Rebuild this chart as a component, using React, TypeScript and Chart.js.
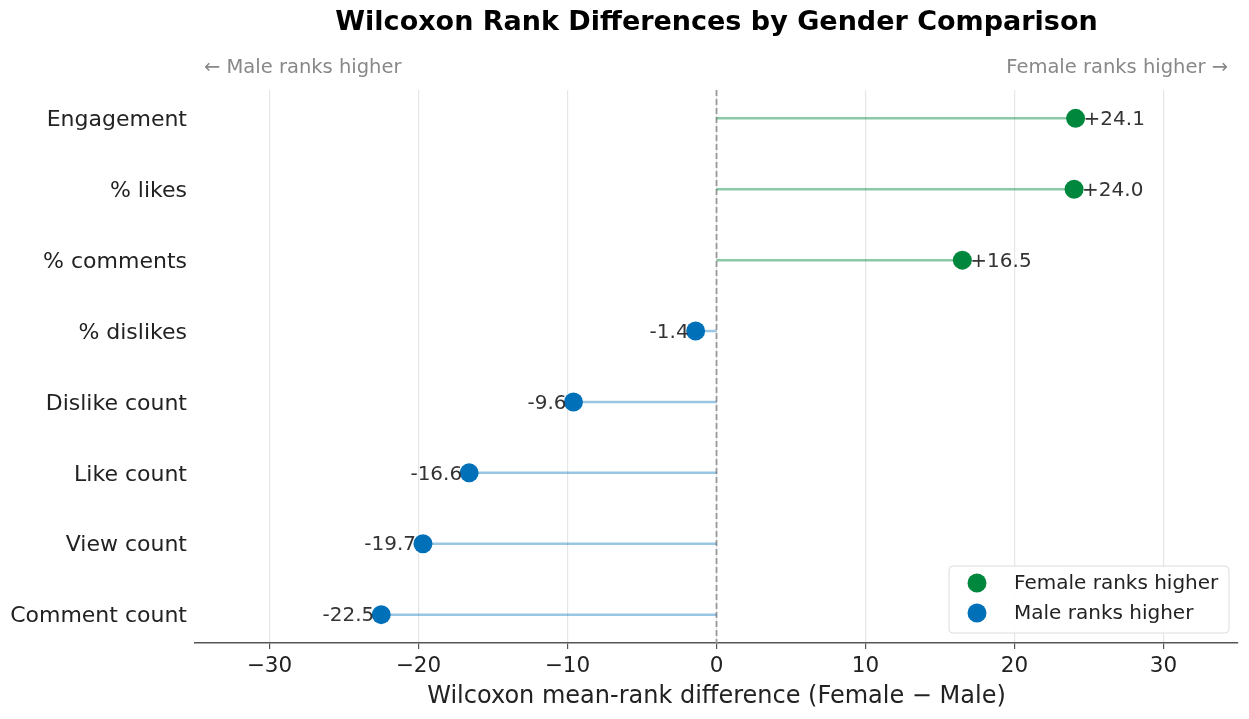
import React, { useEffect, useRef } from "react";
import { Chart, registerables } from "chart.js";
Chart.register(...registerables);

const categories = [
  "Engagement",
  "% likes",
  "% comments",
  "% dislikes",
  "Dislike count",
  "Like count",
  "View count",
  "Comment count",
];
const differences = [24.1, 24.0, 16.5, -1.4, -9.6, -16.6, -19.7, -22.5];
const xTickValues = [-30, -20, -10, 0, 10, 20, 30];
const seriesNames = ["Female ranks higher", "Male ranks higher"];
const titleText = "Wilcoxon Rank Differences by Gender Comparison";
const xTitleText = "Wilcoxon mean-rank difference (Female \u2212 Male)";
const leftNote = "\u2190 Male ranks higher";
const rightNote = "Female ranks higher \u2192";

const FONT = "'DejaVu Sans', Verdana, sans-serif";
const GREEN = "#00873E";
const BLUE = "#0071B9";
const GREEN_STEM = "rgba(0,135,62,0.45)";
const BLUE_STEM = "rgba(0,113,185,0.40)";

const fmt = (v: number) => (v > 0 ? "+" + v.toFixed(1) : v.toFixed(1));

export default function App() {
  const ref = useRef<HTMLCanvasElement | null>(null);

  useEffect(() => {
    if (!ref.current) return;

    const stemSets = differences.map((v, i) => ({
      type: "scatter" as const,
      label: "stem" + i,
      data: [
        { x: 0, y: i },
        { x: v, y: i },
      ],
      showLine: true,
      borderColor: v >= 0 ? GREEN_STEM : BLUE_STEM,
      borderWidth: 2.5,
      pointRadius: 0,
      pointHoverRadius: 0,
      order: 2,
    }));

    const femalePts = differences
      .map((v, i) => ({ x: v, y: i }))
      .filter((p) => p.x > 0);
    const malePts = differences
      .map((v, i) => ({ x: v, y: i }))
      .filter((p) => p.x <= 0);

    const pointSets = [
      {
        type: "scatter" as const,
        label: seriesNames[0],
        data: femalePts,
        backgroundColor: GREEN,
        borderColor: GREEN,
        borderWidth: 0,
        pointRadius: 9.5,
        pointHoverRadius: 9.5,
        order: 1,
      },
      {
        type: "scatter" as const,
        label: seriesNames[1],
        data: malePts,
        backgroundColor: BLUE,
        borderColor: BLUE,
        borderWidth: 0,
        pointRadius: 9.5,
        pointHoverRadius: 9.5,
        order: 1,
      },
    ];

    const overlay = {
      id: "overlay",
      beforeDatasetsDraw(chart: any) {
        const { ctx, chartArea, scales } = chart;
        const x0 = scales.x.getPixelForValue(0);
        ctx.save();
        ctx.strokeStyle = "#9a9a9a";
        ctx.lineWidth = 1.8;
        ctx.setLineDash([6, 3]);
        ctx.beginPath();
        ctx.moveTo(x0, chartArea.top);
        ctx.lineTo(x0, chartArea.bottom);
        ctx.stroke();
        ctx.restore();
      },
      afterDatasetsDraw(chart: any) {
        const { ctx, chartArea } = chart;
        const n = chart.data.datasets.length;
        ctx.save();
        // value labels
        ctx.font = `20px ${FONT}`;
        ctx.fillStyle = "#333333";
        ctx.textBaseline = "middle";
        for (let d = n - 2; d < n; d++) {
          const meta = chart.getDatasetMeta(d);
          const ds = chart.data.datasets[d];
          meta.data.forEach((el: any, j: number) => {
            const v = ds.data[j].x;
            if (v > 0) {
              ctx.textAlign = "left";
              ctx.fillText(fmt(v), el.x + 8, el.y + 1.5);
            } else {
              ctx.textAlign = "right";
              ctx.fillText(fmt(v), el.x - 7, el.y + 1.5);
            }
          });
        }
        // title
        const cx = (chartArea.left + chartArea.right) / 2;
        ctx.fillStyle = "#000000";
        ctx.textAlign = "center";
        ctx.font = `bold 27px ${FONT}`;
        ctx.fillText(titleText, cx, 23);
        // notes
        ctx.font = `19.5px ${FONT}`;
        ctx.fillStyle = "#888888";
        ctx.textAlign = "left";
        ctx.fillText(leftNote, chartArea.left + 9, 68);
        ctx.textAlign = "right";
        ctx.fillText(rightNote, chartArea.right - 10, 68);
        // x title
        ctx.font = `24px ${FONT}`;
        ctx.fillStyle = "#222222";
        ctx.textAlign = "center";
        ctx.fillText(xTitleText, cx, 697);
        // legend
        const bx = 949, by = 566, bw = 280, bh = 67;
        ctx.beginPath();
        (ctx as any).roundRect(bx, by, bw, bh, 4);
        ctx.fillStyle = "rgba(255,255,255,0.85)";
        ctx.fill();
        ctx.strokeStyle = "#dddddd";
        ctx.lineWidth = 1;
        ctx.stroke();
        const items = [
          { name: seriesNames[0], color: GREEN, y: 583 },
          { name: seriesNames[1], color: BLUE, y: 613 },
        ];
        ctx.font = `20px ${FONT}`;
        ctx.textAlign = "left";
        items.forEach((it) => {
          ctx.beginPath();
          ctx.arc(977, it.y, 9.5, 0, Math.PI * 2);
          ctx.fillStyle = it.color;
          ctx.fill();
          ctx.fillStyle = "#222222";
          ctx.fillText(it.name, 1014, it.y + 1);
        });
        ctx.restore();
      },
    };

    const chart = new Chart(ref.current, {
      type: "scatter",
      data: { datasets: [...stemSets, ...pointSets] as any },
      options: {
        animation: false,
        responsive: true,
        maintainAspectRatio: false,
        layout: { padding: { left: 0, right: 11, top: 90, bottom: 0 } },
        plugins: {
          legend: { display: false },
          title: { display: false },
          tooltip: { enabled: false },
        },
        scales: {
          x: {
            type: "linear",
            min: -35,
            max: 35,
            afterBuildTicks: (scale: any) => {
              scale.ticks = xTickValues.map((v) => ({ value: v }));
            },
            afterFit: (scale: any) => {
              scale.height = 76;
            },
            grid: {
              color: "#e6e6e6",
              lineWidth: 1.2,
              tickColor: "#555555",
              tickLength: 6,
              drawTicks: true,
            },
            border: { display: true, color: "#555555", width: 1.6 },
            ticks: {
              padding: 5,
              color: "#222222",
              font: { family: FONT, size: 21.5 },
              callback: (v: any) => String(v).replace("-", "\u2212"),
            },
          },
          y: {
            type: "linear",
            reverse: true,
            min: -0.4,
            max: 7.4,
            afterBuildTicks: (scale: any) => {
              scale.ticks = categories.map((_, i) => ({ value: i }));
            },
            afterFit: (scale: any) => {
              scale.width = 195;
            },
            grid: { display: false, drawTicks: false },
            border: { display: false },
            ticks: {
              padding: 8,
              labelOffset: 2,
              color: "#222222",
              font: { family: FONT, size: 22 },
              callback: (v: any) => categories[v as number] ?? "",
            },
          },
        },
      },
      plugins: [overlay],
    });

    return () => chart.destroy();
  }, []);

  return (
    <div
      style={{
        position: "absolute",
        left: 0,
        top: 0,
        width: 1249,
        height: 719,
        background: "#ffffff",
      }}
    >
      <canvas ref={ref} />
    </div>
  );
}
